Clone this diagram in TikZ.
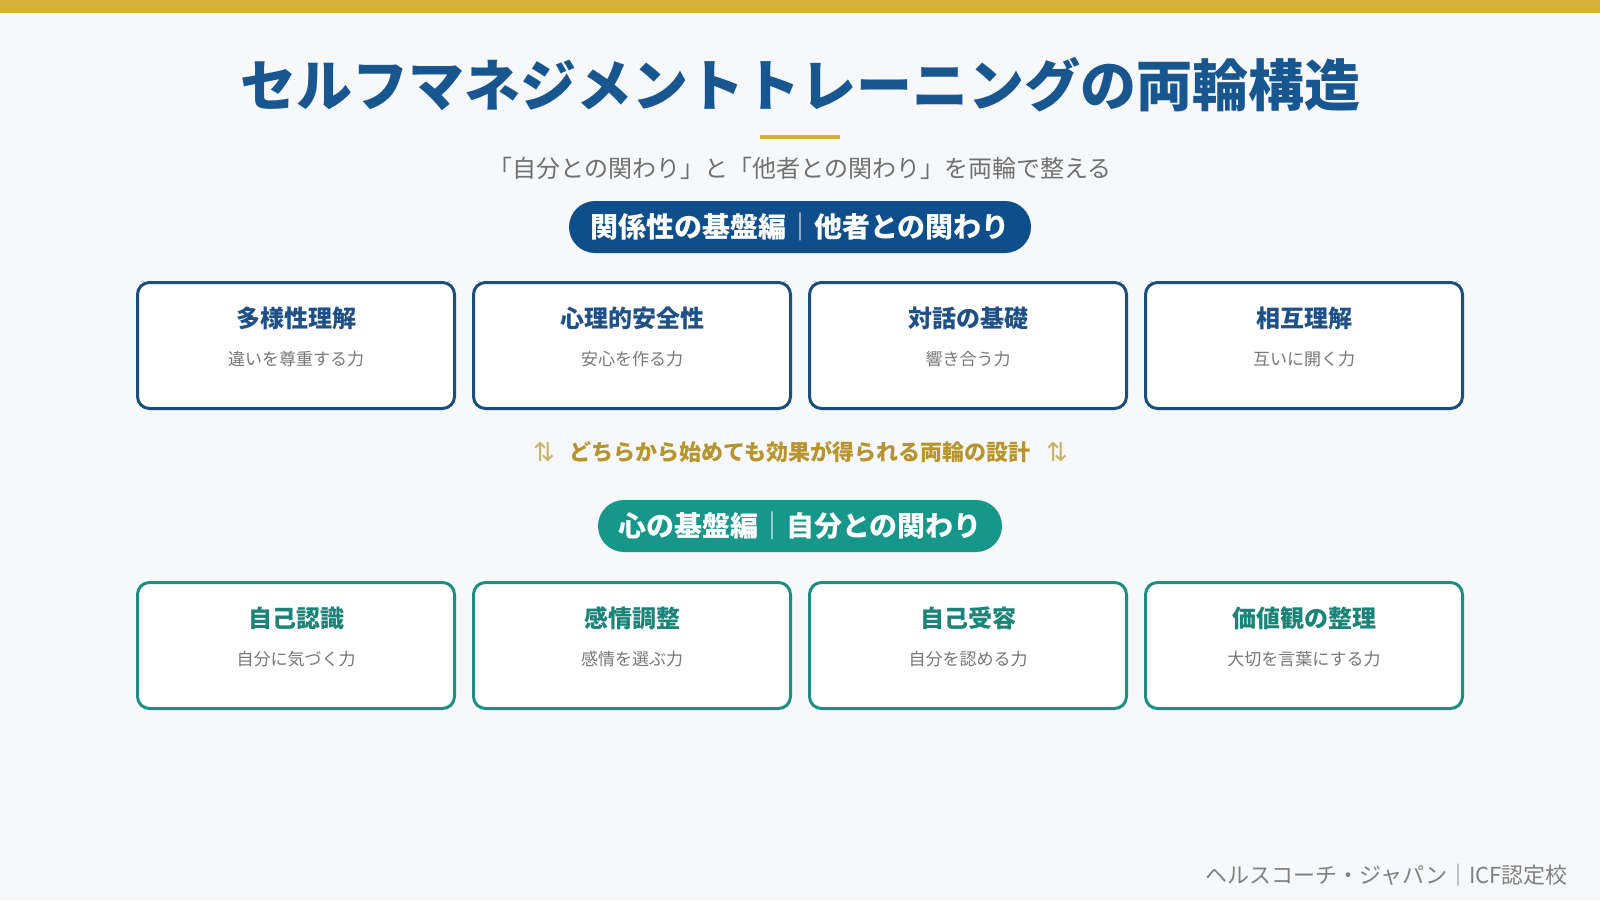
\documentclass[tikz,border=0pt]{standalone}
\usepackage{fontspec}
\newfontfamily\jp{Noto Sans CJK JP}
\newfontfamily\dejavu{DejaVu Sans}
\definecolor{bgcol}{HTML}{F6F8FA}
\definecolor{goldbar}{HTML}{D5B03A}
\definecolor{titleblue}{HTML}{18568F}
\definecolor{subgray}{HTML}{707070}
\definecolor{pillblue}{HTML}{0E4F8B}
\definecolor{midgold}{HTML}{B8942E}
\definecolor{arrowgold}{HTML}{C9B46E}
\definecolor{pillteal}{HTML}{17968A}
\definecolor{boxblue}{HTML}{1C4E7E}
\definecolor{boxbluetxt}{HTML}{1F5186}
\definecolor{boxteal}{HTML}{1E8E84}
\definecolor{boxtealtxt}{HTML}{1B8478}
\definecolor{capgray}{HTML}{777777}
\definecolor{footgray}{HTML}{808080}
\tikzset{
  card/.style={draw=#1, line width=3pt, fill=white, rounded corners=12pt,
    minimum width=317pt, minimum height=126pt, inner sep=0pt},
  cardtitle/.style={text=#1, font=\jp\bfseries\fontsize{24}{28}\selectfont, inner sep=0pt},
  cardsub/.style={text=capgray, font=\jp\fontsize{17}{20}\selectfont, inner sep=0pt},
  pill/.style={fill=#1, rounded corners=26pt, minimum height=52pt, inner sep=0pt,
    text=white, font=\jp\bfseries\fontsize{28}{30}\selectfont},
}
\begin{document}
\begin{tikzpicture}[x=1pt,y=-1pt]
\useasboundingbox (0,0) rectangle (1600,900);
\fill[bgcol] (0,0) rectangle (1600,900);
\fill[goldbar] (0,0) rectangle (1600,13);
% title
\node[text=titleblue, font=\jp\bfseries\fontsize{56}{60}\selectfont, inner sep=0pt] (title) at (800,85) {セルフマネジメントトレーニングの両輪構造};
\fill[goldbar] (760,135) rectangle (840,139);
\node[text=subgray, font=\jp\fontsize{24}{28}\selectfont, inner sep=0pt] (subtitle) at (800,168) {「自分との関わり」と「他者との関わり」を両輪で整える};
% top pill
\node[pill=pillblue, minimum width=462pt] (toppill) at (800,227) {関係性の基盤編{\color{white!75!pillblue}｜}他者との関わり};
% top cards
\foreach \n/\x/\t/\s in {a/296/多様性理解/違いを尊重する力, b/632/心理的安全性/安心を作る力, c/968/対話の基礎/響き合う力, d/1304/相互理解/互いに開く力}{
  \node[card=boxblue] (top\n) at (\x,345.5) {};
  \node[cardtitle=boxbluetxt] (top\n t) at (\x,318) {\t};
  \node[cardsub] (top\n s) at (\x,359) {\s};
}
% middle line
\node[text=midgold, font=\jp\bfseries\fontsize{22}{26}\selectfont, inner sep=0pt] (mid) at (800,452) {どちらから始めても効果が得られる両輪の設計};
\node[text=arrowgold, font=\dejavu\fontsize{26}{28}\selectfont, inner sep=0pt] (arrl) at (544,452) {⇅};
\node[text=arrowgold, font=\dejavu\fontsize{26}{28}\selectfont, inner sep=0pt] (arrr) at (1057,452) {⇅};
% bottom pill
\node[pill=pillteal, minimum width=404pt] (botpill) at (800,526) {心の基盤編{\color{white!75!pillteal}｜}自分との関わり};
% bottom cards
\foreach \n/\x/\t/\s in {a/296/自己認識/自分に気づく力, b/632/感情調整/感情を選ぶ力, c/968/自己受容/自分を認める力, d/1304/価値観の整理/大切を言葉にする力}{
  \node[card=boxteal] (bot\n) at (\x,645.5) {};
  \node[cardtitle=boxtealtxt] (bot\n t) at (\x,618) {\t};
  \node[cardsub] (bot\n s) at (\x,659) {\s};
}
% footer
\node[text=footgray, font=\jp\fontsize{22}{24}\selectfont, inner sep=0pt, anchor=east] (footer) at (1568,875) {ヘルスコーチ・ジャパン｜ICF認定校};
\end{tikzpicture}
\end{document}
